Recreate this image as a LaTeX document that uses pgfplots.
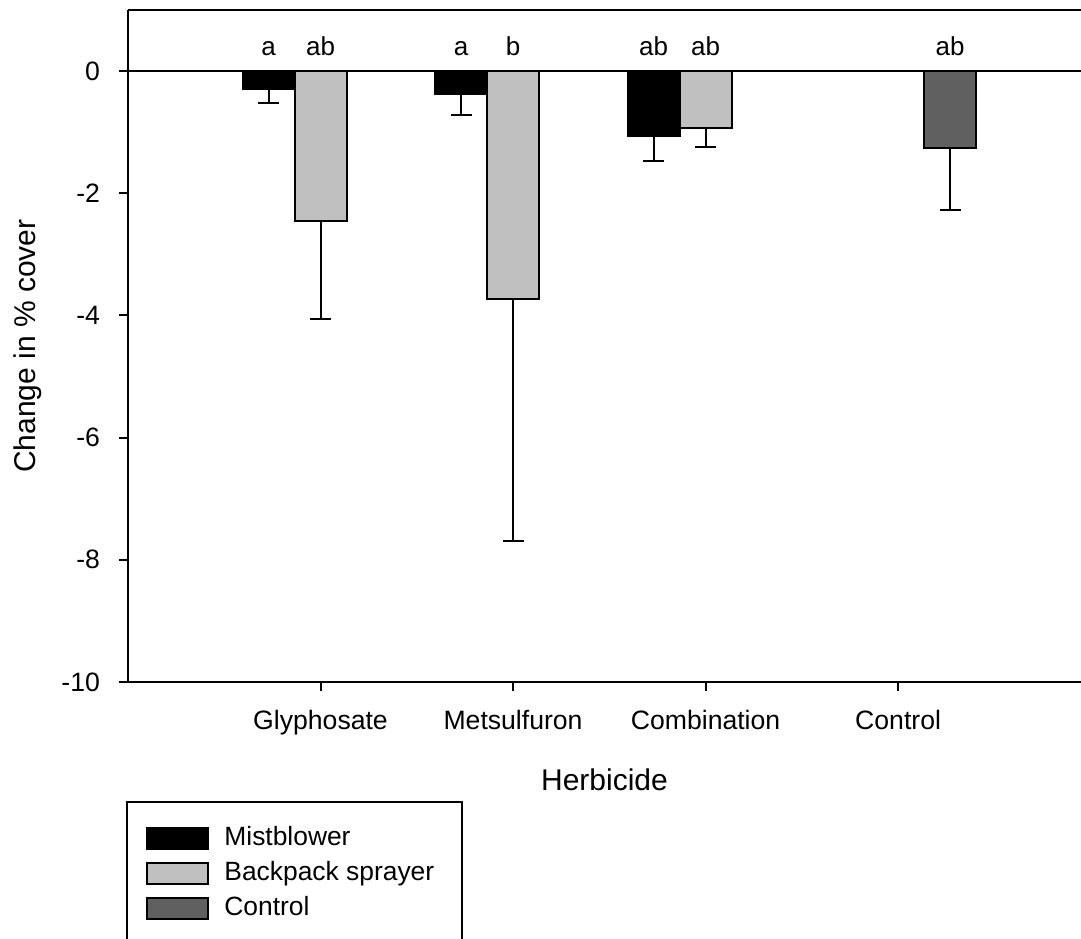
\documentclass[border=0pt]{standalone}
\usepackage{fontspec}
\setmainfont{Liberation Sans}
\usepackage{pgfplots}
\pgfplotsset{compat=1.18}
\usetikzlibrary{calc}
\definecolor{bpgray}{RGB}{192,192,192}
\definecolor{ctgray}{RGB}{96,96,96}
\begin{document}
\begin{tikzpicture}
\useasboundingbox (-64pt,-128pt) rectangle (476.5pt,341pt);
\begin{axis}[
  name=ax,
  scale only axis, width=476.5pt, height=336pt,
  xmin=0, xmax=4.95, ymin=-10, ymax=1,
  axis x line*=box, axis y line*=left,
  axis line style={line width=1.3pt},
  xtick pos=left,
  tick align=outside,
  major tick style={line width=1pt, black},
  major tick length=4.5pt,
  xtick={1,2,3,4},
  xticklabels={Glyphosate,Metsulfuron,Combination,Control},
  ytick={-10,-8,-6,-4,-2,0},
  yticklabels={-10,-8,-6,-4,-2,0},
  tick label style={font=\fontsize{13.3}{16}\selectfont},
  xticklabel style={yshift=-6pt},
  yticklabel style={xshift=-6pt},
  xlabel={Herbicide},
  ylabel={Change in \% cover},
  label style={font=\fontsize{15}{18}\selectfont},
  xlabel style={at={(axis description cs:0.5,-0.146)}, anchor=center},
  ylabel style={at={(axis description cs:-0.105,0.5)}, anchor=center},
  ybar, bar width=0.27,
  every axis plot/.append style={draw=black, line width=1pt},
  error bars/y dir=minus, error bars/y explicit,
  error bars/error bar style={line width=1pt, black},
  error bars/error mark options={rotate=90, mark size=5.25pt, line width=1pt, black},
  legend style={draw=none, fill=none, at={(0,0)}, anchor=north west, xshift=6pt, yshift=-69pt,
     font=\fontsize{13.2}{16}\selectfont, row sep=3.2pt,
     nodes={inner ysep=1pt, text height=9.5pt, text depth=2.7pt},
     /tikz/every odd column/.append style={column sep=5.5pt}},
  legend cell align=left,
  legend image code/.code={\draw[#1, line width=1pt] (0pt,-5.2pt) rectangle (30.5pt,5.2pt);},
  clip=false,
]
\addplot[fill=black, bar shift=-0.27] coordinates {
  (1,-0.29) +- (0,0.24)
  (2,-0.38) +- (0,0.34)
  (3,-1.06) +- (0,0.41)
};
\addlegendentry{Mistblower}
\addplot[fill=bpgray, bar shift=0] coordinates {
  (1,-2.45) +- (0,1.60)
  (2,-3.73) +- (0,3.97)
  (3,-0.93) +- (0,0.31)
};
\addlegendentry{Backpack sprayer}
\addplot[fill=ctgray, bar shift=0.27] coordinates {
  (4,-1.26) +- (0,1.01)
};
\addlegendentry{Control}
\draw[line width=1pt] (axis cs:0,0) -- (axis cs:4.95,0);
\begin{scope}[every node/.style={font=\fontsize{13}{15}\selectfont, anchor=base}]
\node at (axis cs:0.73,0.25) {a};
\node at (axis cs:1.0,0.25) {ab};
\node at (axis cs:1.73,0.25) {a};
\node at (axis cs:2.0,0.25) {b};
\node at (axis cs:2.73,0.25) {ab};
\node at (axis cs:3.0,0.25) {ab};
\node at (axis cs:4.27,0.25) {ab};
\end{scope}
\end{axis}
\draw[line width=1pt] ($(ax.south west)+(-0.5pt,-60pt)$) rectangle ($(ax.south west)+(167pt,-131pt)$);
\end{tikzpicture}
\end{document}
